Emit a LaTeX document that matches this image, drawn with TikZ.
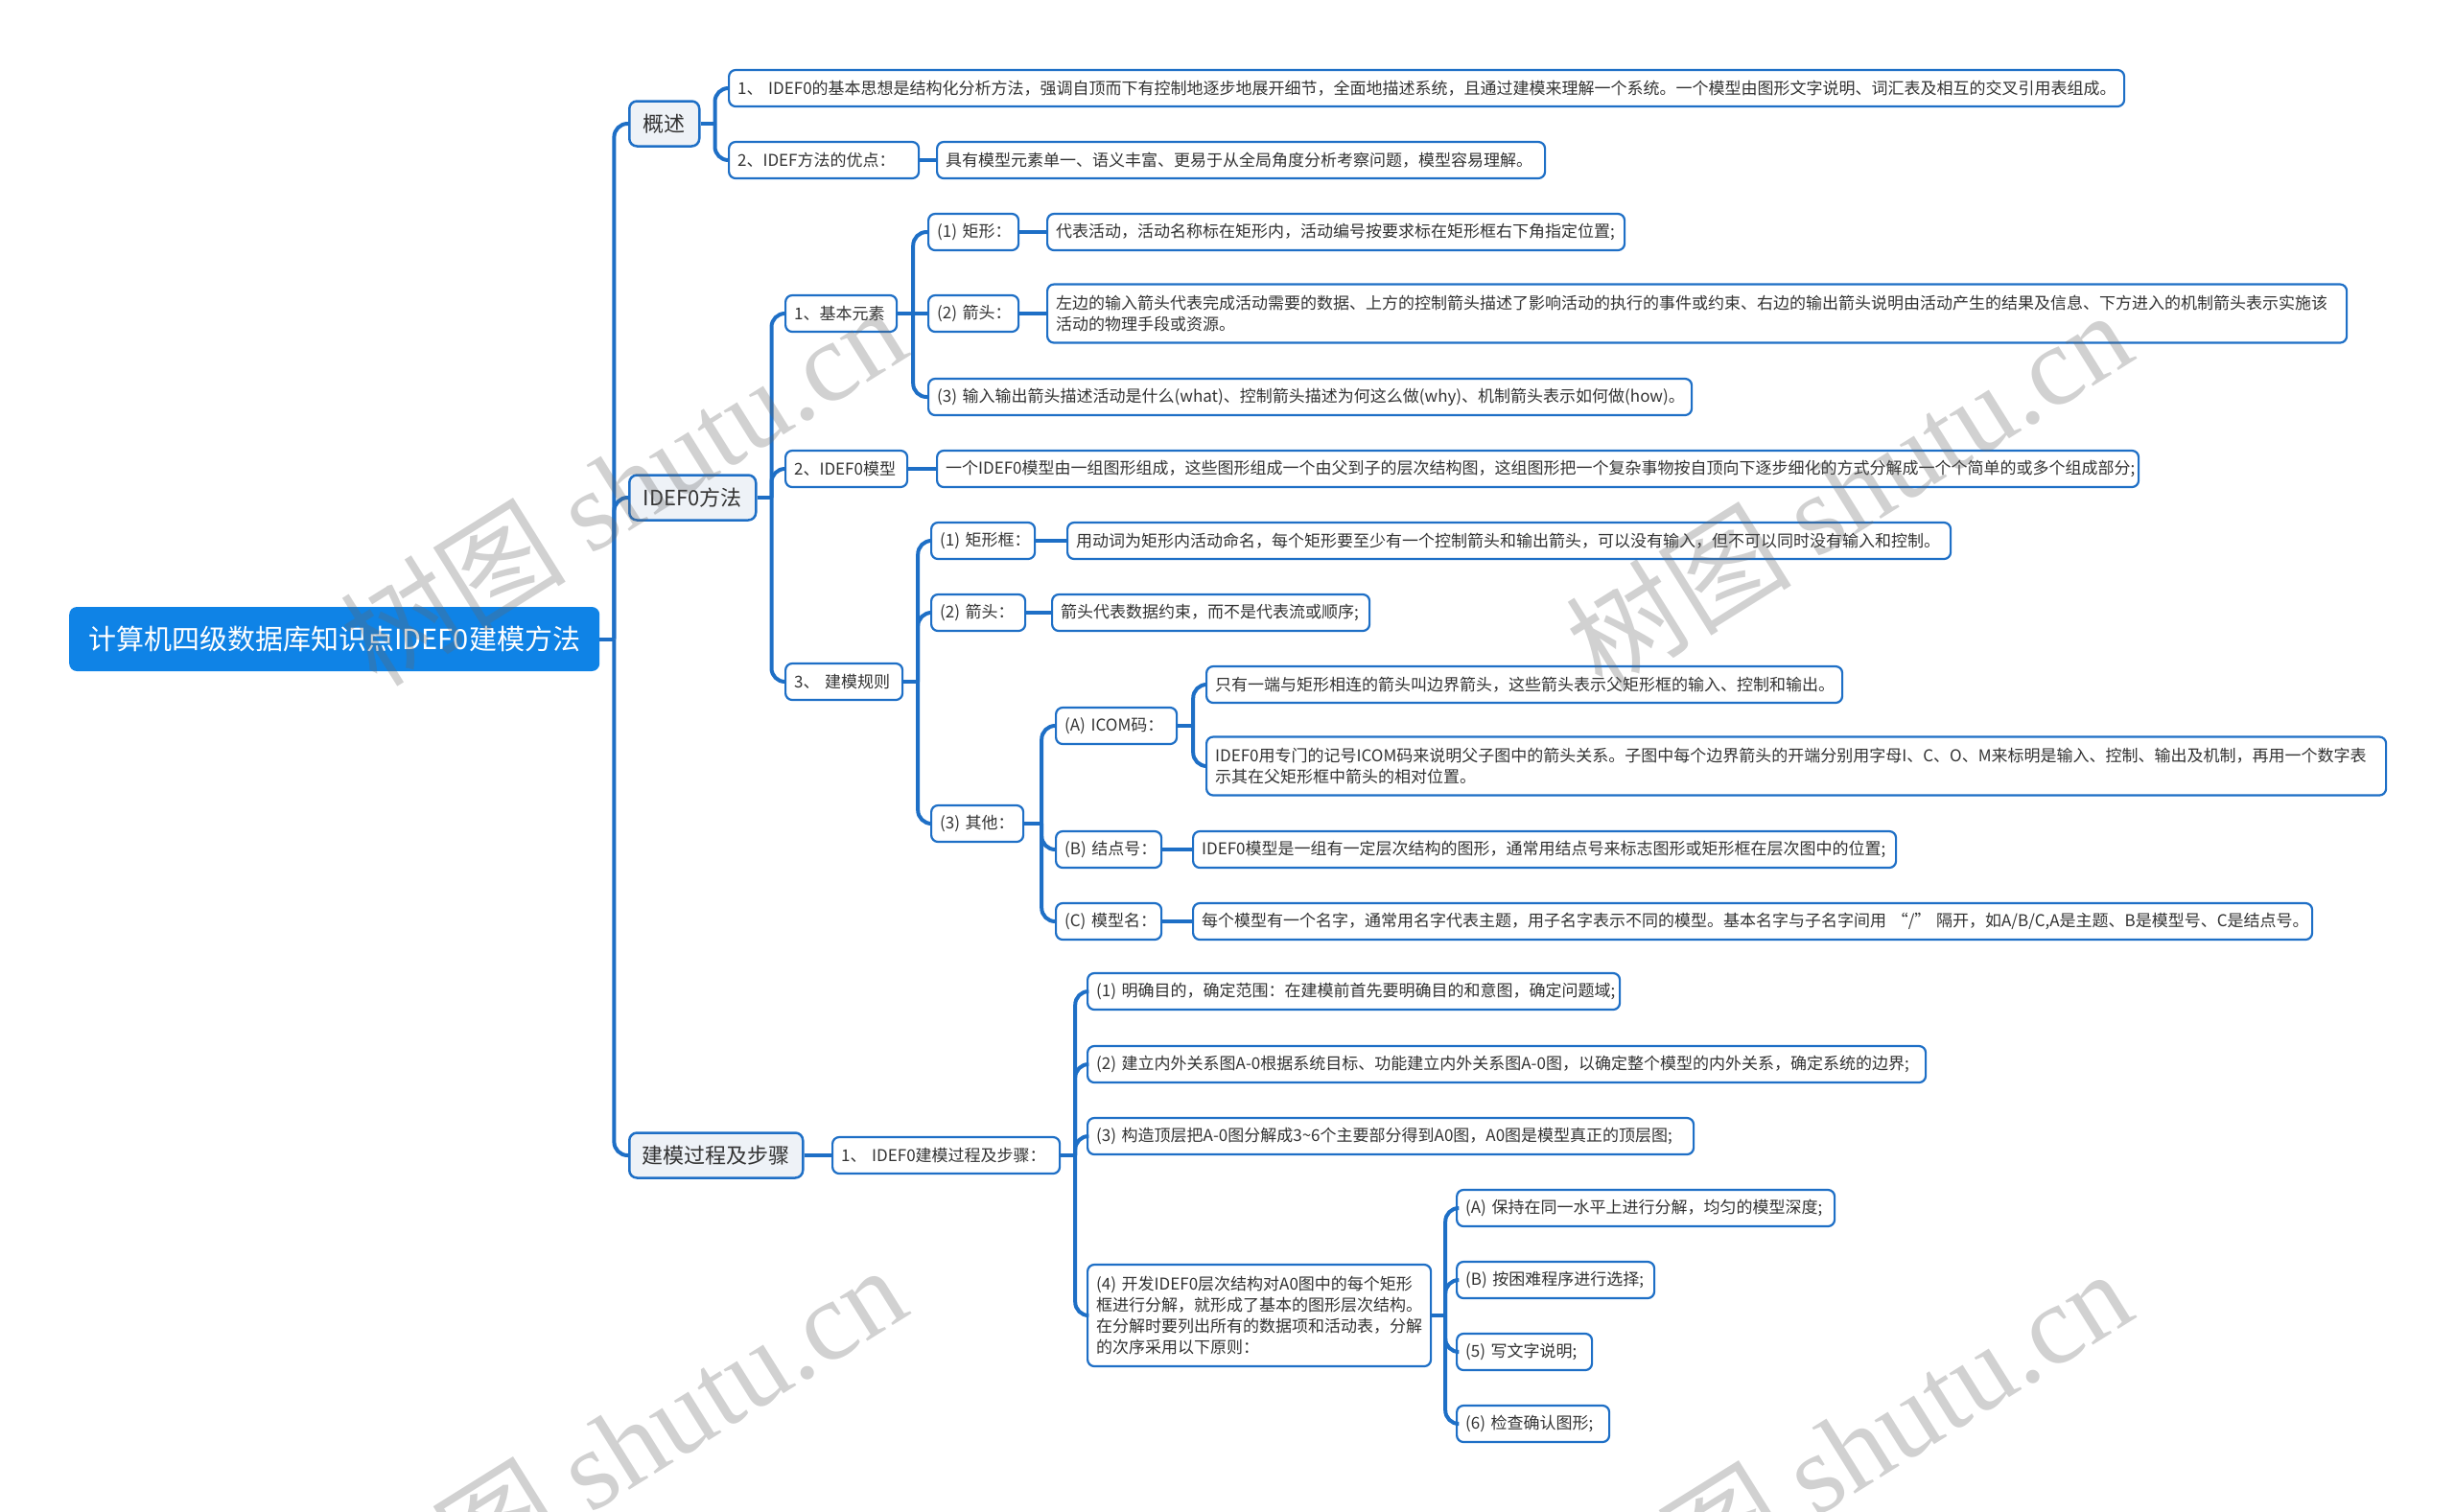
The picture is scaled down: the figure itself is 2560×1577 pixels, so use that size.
\documentclass[tikz,border=0pt]{standalone}
\usepackage{fontspec}
\setmainfont{Noto Sans CJK SC}
\newfontfamily\wmfont{Liberation Serif}
\definecolor{linec}{HTML}{1E6FC6}
\definecolor{rootfill}{HTML}{0F83E6}
\definecolor{topicfill}{HTML}{EEF2F7}
\definecolor{textc}{HTML}{333333}
\hyphenpenalty=10000
\exhyphenpenalty=10000

\begin{document}
\begin{tikzpicture}[x=1pt, y=-1pt,
    root/.style={rectangle, rounded corners=8pt, fill=rootfill, text=white, font=\fontsize{29}{34}\selectfont, minimum width=553pt, minimum height=67pt, anchor=west},
    topic/.style={rectangle, rounded corners=8pt, draw=linec, line width=2.5pt, fill=topicfill, text=textc, font=\fontsize{22}{26}\selectfont, minimum height=47pt, anchor=west},
    leaf/.style={rectangle, rounded corners=7pt, draw=linec, line width=2.2pt, fill=white, text=textc, font=\fontsize{17}{22}\selectfont, minimum height=38pt, inner xsep=9pt, inner ysep=4pt, align=left, anchor=west},
    link/.style={draw=linec, line width=4pt, rounded corners=14pt},
    wmark/.style={rotate=32, text=black!60, text opacity=0.3, font=\fontsize{118}{118}\selectfont}
]
    \useasboundingbox (0,0) rectangle (2560,1577);

    % Root and topics
    \node[root] (root) at (72,666.5) {计算机四级数据库知识点IDEF0建模方法};
    \node[topic, minimum width=73pt] (gaishu) at (655,129) {概述};
    \node[topic, minimum width=132pt] (fangfa) at (655,519) {IDEF0方法};
    \node[topic, minimum width=181pt] (guocheng) at (655,1205) {建模过程及步骤};

    % 概述
    \node[leaf, text width=1437pt] (g1) at (759,92) {1、~IDEF0的基本思想是结构化分析方法，强调自顶而下有控制地逐步地展开细节，全面地描述系统，且通过建模来理解一个系统。一个模型由图形文字说明、词汇表及相互的交叉引用表组成。};
    \node[leaf, text width=180pt] (g2) at (759,167) {2、IDEF方法的优点：};
    \node[leaf, text width=616pt] (g2a) at (976,167) {具有模型元素单一、语义丰富、更易于从全局角度分析考察问题，模型容易理解。};

    % IDEF0方法
    \node[leaf, text width=98pt] (f1) at (818,327) {1、基本元素};
    \node[leaf, text width=76pt] (f1a) at (967,242) {(1)~矩形：};
    \node[leaf, text width=584pt] (f1a1) at (1091,242) {代表活动，活动名称标在矩形内，活动编号按要求标在矩形框右下角指定位置;};
    \node[leaf, text width=76pt] (f1b) at (967,327) {(2)~箭头：};
    \node[leaf, text width=1337pt, minimum height=61pt] (f1b1) at (1091,327) {左边的输入箭头代表完成活动需要的数据、上方的控制箭头描述了影响活动的执行的事件或约束、右边的输出箭头说明由活动产生的结果及信息、下方进入的机制箭头表示实施该\\活动的物理手段或资源。};
    \node[leaf, text width=778pt] (f1c) at (967,414) {(3)~输入输出箭头描述活动是什么(what)、控制箭头描述为何这么做(why)、机制箭头表示如何做(how)。};
    \node[leaf, text width=109pt] (f2) at (818,489) {2、IDEF0模型};
    \node[leaf, text width=1235pt] (f2a) at (976,489) {一个IDEF0模型由一组图形组成，这些图形组成一个由父到子的层次结构图，这组图形把一个复杂事物按自顶向下逐步细化的方式分解成一个个简单的或多个组成部分;};
    \node[leaf, text width=104pt] (f3) at (818,711) {3、~建模规则};
    \node[leaf, text width=90pt] (f3a) at (970,564) {(1)~矩形框：};
    \node[leaf, text width=903pt] (f3a1) at (1112,564) {用动词为矩形内活动命名，每个矩形要至少有一个控制箭头和输出箭头，可以没有输入，但不可以同时没有输入和控制。};
    \node[leaf, text width=80pt] (f3b) at (970,639) {(2)~箭头：};
    \node[leaf, text width=313pt] (f3b1) at (1096,639) {箭头代表数据约束，而不是代表流或顺序;};
    \node[leaf, text width=78pt] (f3c) at (970,859) {(3)~其他：};
    \node[leaf, text width=108pt] (f3c1) at (1100,757) {(A)~ICOM码：};
    \node[leaf, text width=645pt] (f3c1a) at (1257,714) {只有一端与矩形相连的箭头叫边界箭头，这些箭头表示父矩形框的输入、控制和输出。};
    \node[leaf, text width=1212pt, minimum height=61pt] (f3c1b) at (1257,799) {IDEF0用专门的记号ICOM码来说明父子图中的箭头关系。子图中每个边界箭头的开端分别用字母I、C、O、M来标明是输入、控制、输出及机制，再用一个数字表\\示其在父矩形框中箭头的相对位置。};
    \node[leaf, text width=92pt] (f3c2) at (1100,886) {(B)~结点号：};
    \node[leaf, text width=715pt] (f3c2a) at (1243,886) {IDEF0模型是一组有一定层次结构的图形，通常用结点号来标志图形或矩形框在层次图中的位置;};
    \node[leaf, text width=92pt] (f3c3) at (1100,961) {(C)~模型名：};
    \node[leaf, text width=1149pt] (f3c3a) at (1243,961) {每个模型有一个名字，通常用名字代表主题，用子名字表示不同的模型。基本名字与子名字间用~“/”~隔开，如A/B/C,A是主题、B是模型号、C是结点号。};

    % 建模过程及步骤
    \node[leaf, text width=219pt] (p1) at (867,1205) {1、~IDEF0建模过程及步骤：};
    \node[leaf, text width=537pt] (p1a) at (1133,1034) {(1)~明确目的，确定范围：在建模前首先要明确目的和意图，确定问题域;};
    \node[leaf, text width=856pt] (p1b) at (1133,1110) {(2)~建立内外关系图A-0根据系统目标、功能建立内外关系图A-0图，以确定整个模型的内外关系，确定系统的边界;};
    \node[leaf, text width=614pt] (p1c) at (1133,1185) {(3)~构造顶层把A-0图分解成3\textasciitilde6个主要部分得到A0图，A0图是模型真正的顶层图;};
    \node[leaf, text width=340pt, minimum height=106pt] (p1d) at (1133,1372) {(4)~开发IDEF0层次结构对A0图中的每个矩形\\框进行分解，就形成了基本的图形层次结构。\\在分解时要列出所有的数据项和活动表，分解\\的次序采用以下原则：};
    \node[leaf, text width=376pt] (p1d1) at (1518,1260) {(A)~保持在同一水平上进行分解，均匀的模型深度;};
    \node[leaf, text width=188pt] (p1d2) at (1518,1335) {(B)~按困难程序进行选择;};
    \node[leaf, text width=123pt] (p1d3) at (1518,1410) {(5)~写文字说明;};
    \node[leaf, text width=141pt] (p1d4) at (1518,1485) {(6)~检查确认图形;};

    % Links
    \draw[link] (root.east) -- ++(15,0) coordinate (r0);
    \draw[link] (r0) |- (gaishu.west);
    \draw[link] (r0) |- (fangfa.west);
    \draw[link] (r0) |- (guocheng.west);

    \draw[link] (gaishu.east) -- ++(15,0) coordinate (g0);
    \draw[link] (g0) |- (g1.west);
    \draw[link] (g0) |- (g2.west);
    \draw[link] (g2.east) -- (g2a.west);

    \draw[link] (fangfa.east) -- ++(15,0) coordinate (f0);
    \draw[link] (f0) |- (f1.west);
    \draw[link] (f0) |- (f2.west);
    \draw[link] (f0) |- (f3.west);
    \draw[link] (f1.east) -- ++(16,0) coordinate (f10);
    \draw[link] (f10) |- (f1a.west);
    \draw[link] (f10) -- (f1b.west);
    \draw[link] (f10) |- (f1c.west);
    \draw[link] (f1a.east) -- (f1a1.west);
    \draw[link] (f1b.east) -- (f1b1.west);
    \draw[link] (f2.east) -- (f2a.west);
    \draw[link] (f3.east) -- ++(15,0) coordinate (f30);
    \draw[link] (f30) |- (f3a.west);
    \draw[link] (f30) |- (f3b.west);
    \draw[link] (f30) |- (f3c.west);
    \draw[link] (f3a.east) -- (f3a1.west);
    \draw[link] (f3b.east) -- (f3b1.west);
    \draw[link] (f3c.east) -- ++(18,0) coordinate (f3c0);
    \draw[link] (f3c0) |- (f3c1.west);
    \draw[link] (f3c0) |- (f3c2.west);
    \draw[link] (f3c0) |- (f3c3.west);
    \draw[link] (f3c1.east) -- ++(16,0) coordinate (f3c10);
    \draw[link] (f3c10) |- (f3c1a.west);
    \draw[link] (f3c10) |- (f3c1b.west);
    \draw[link] (f3c2.east) -- (f3c2a.west);
    \draw[link] (f3c3.east) -- (f3c3a.west);

    \draw[link] (guocheng.east) -- (p1.west);
    \draw[link] (p1.east) -- ++(15,0) coordinate (p10);
    \draw[link] (p10) |- (p1a.west);
    \draw[link] (p10) |- (p1b.west);
    \draw[link] (p10) |- (p1c.west);
    \draw[link] (p10) |- (p1d.west);
    \draw[link] (p1d.east) -- ++(14,0) coordinate (p1d0);
    \draw[link] (p1d0) |- (p1d1.west);
    \draw[link] (p1d0) |- (p1d2.west);
    \draw[link] (p1d0) |- (p1d3.west);
    \draw[link] (p1d0) |- (p1d4.west);

    % Watermarks
    \begin{scope}
        \clip (0,0) rectangle (2560,1577);
        \node[wmark] (wm1) at (649,506) {树图~{\wmfont shutu.cn}};
        \node[wmark] (wm2) at (1927,510) {树图~{\wmfont shutu.cn}};
        \node[wmark] (wm3) at (649,1506) {树图~{\wmfont shutu.cn}};
        \node[wmark] (wm4) at (1927,1510) {树图~{\wmfont shutu.cn}};
    \end{scope}
\end{tikzpicture}
\end{document}
